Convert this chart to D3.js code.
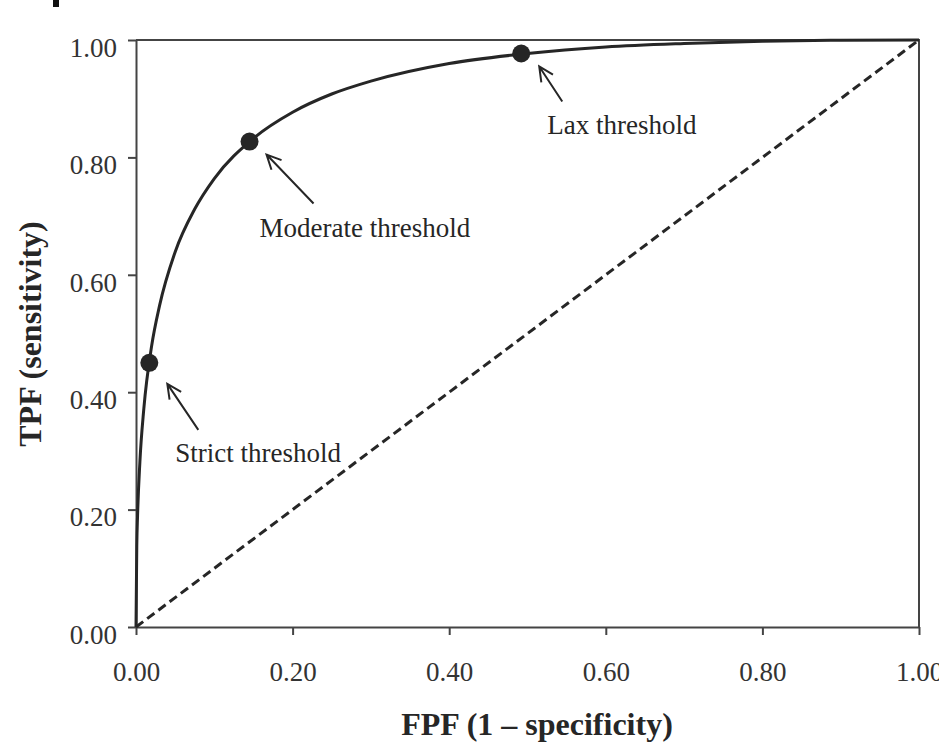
<!DOCTYPE html>
<html>
<head>
<meta charset="utf-8">
<script src="https://cdn.jsdelivr.net/npm/d3@7"></script>
<style>
  body { margin: 0; background: #fff; }
  svg { display: block; font-family: "Liberation Serif", "Times New Roman", serif; }
</style>
</head>
<body>
<div id="chart"></div>
<script>
// ROC curve: FPF (x) and TPF (y)
const fpf = [0, 0.001, 0.002, 0.005, 0.01, 0.02, 0.03, 0.05, 0.075, 0.10, 0.15, 0.20, 0.25, 0.30, 0.40, 0.50, 0.60, 0.70, 0.80, 0.90, 1.00];
const tpf = [0, 0.138, 0.19, 0.282, 0.372, 0.479, 0.547, 0.639, 0.712, 0.764, 0.8325, 0.877, 0.908, 0.930, 0.960, 0.977, 0.988, 0.994, 0.998, 0.9995, 1.00];

// chance line
const chanceX = [0, 1];
const chanceY = [0, 1];

// operating points
const pointNames = ["Strict threshold", "Moderate threshold", "Lax threshold"];
const pointFpf = [0.017, 0.145, 0.492];
const pointTpf = [0.45, 0.827, 0.977];

const xTicks = [0, 0.2, 0.4, 0.6, 0.8, 1.0];
const yTicks = [0, 0.2, 0.4, 0.6, 0.8, 1.0];
const xTitle = "FPF (1 \u2013 specificity)";
const yTitle = "TPF (sensitivity)";

// annotation layout (pixel offsets from each point): arrow tip, arrow tail, label start
const annot = [
  {tip: [18, 21], tail: [49, 67], label: [26, 99]},
  {tip: [17, 13], tail: [64, 62], label: [10, 95]},
  {tip: [18, 13], tail: [41, 48], label: [26, 80]}
];

const width = 939, height = 749;
const margin = {top: 40, right: 20, bottom: 122, left: 136};
const innerWidth = width - margin.left - margin.right,
      innerHeight = height - margin.top - margin.bottom;
const ink = "#262626";

const svg = d3.select("#chart").append("svg")
  .attr("width", width)
  .attr("height", height);

// stray panel-label fragment at top-left of the scan
svg.append("rect")
  .attr("x", 53).attr("y", 0).attr("width", 6).attr("height", 7)
  .attr("fill", "#111");

const g = svg.append("g")
  .attr("transform", `translate(${margin.left}, ${margin.top})`);

const x = d3.scaleLinear().domain([0, 1]).range([0, innerWidth]);
const y = d3.scaleLinear().domain([0, 1]).range([innerHeight, 0]);

// frame (top and right)
g.append("path")
  .attr("d", `M0,0H${innerWidth}V${innerHeight}`)
  .attr("fill", "none")
  .attr("stroke", "#444")
  .attr("stroke-width", 2);

// axes
const xAxis = g.append("g")
  .attr("transform", `translate(0, ${innerHeight})`)
  .call(d3.axisBottom(x).tickValues(xTicks).tickFormat(d3.format(".2f")).tickSize(8).tickSizeOuter(0).tickPadding(27));
const yAxis = g.append("g")
  .call(d3.axisLeft(y).tickValues(yTicks).tickFormat(d3.format(".2f")).tickSize(8).tickSizeOuter(0).tickPadding(11));

[xAxis, yAxis].forEach(ax => {
  ax.select(".domain").attr("stroke", "#444").attr("stroke-width", 2);
  ax.selectAll(".tick line").attr("stroke", "#444").attr("stroke-width", 2);
  ax.selectAll(".tick text")
    .attr("fill", "#333")
    .style("font-size", "27px")
    .style("font-family", "'Liberation Serif', 'Times New Roman', serif");
});
yAxis.selectAll(".tick text").attr("dy", "0.6em");
xAxis.selectAll(".tick text").attr("dy", "0.7em");

// axis titles
svg.append("text")
  .attr("x", 537)
  .attr("y", 735)
  .attr("text-anchor", "middle")
  .attr("fill", ink)
  .style("font-size", "32px")
  .style("font-weight", "bold")
  .text(xTitle);

svg.append("text")
  .attr("transform", `translate(41, ${334}) rotate(-90)`)
  .attr("text-anchor", "middle")
  .attr("fill", ink)
  .style("font-size", "32px")
  .style("font-weight", "bold")
  .text(yTitle);

// chance diagonal
g.append("path")
  .datum(d3.zip(chanceX, chanceY))
  .attr("d", d3.line().x(d => x(d[0])).y(d => y(d[1])))
  .attr("fill", "none")
  .attr("stroke", ink)
  .attr("stroke-width", 3)
  .attr("stroke-dasharray", "9,5");

// ROC curve
g.append("path")
  .datum(d3.zip(fpf, tpf))
  .attr("d", d3.line().x(d => x(d[0])).y(d => y(d[1])).curve(d3.curveMonotoneX))
  .attr("fill", "none")
  .attr("stroke", ink)
  .attr("stroke-width", 3);

// operating points
const pts = pointNames.map((n, i) => ({name: n, fx: pointFpf[i], ty: pointTpf[i], a: annot[i]}));

g.selectAll("circle.pt")
  .data(pts)
  .enter().append("circle")
  .attr("class", "pt")
  .attr("cx", d => x(d.fx))
  .attr("cy", d => y(d.ty))
  .attr("r", 9)
  .attr("fill", ink);

// arrows with open heads
const arrows = g.selectAll("g.arrow")
  .data(pts)
  .enter().append("g")
  .attr("class", "arrow")
  .attr("transform", d => `translate(${x(d.fx)}, ${y(d.ty)})`);

arrows.append("path")
  .attr("d", d => {
    const [tx, ty] = d.a.tip, [sx, sy] = d.a.tail;
    const ang = Math.atan2(sy - ty, sx - tx);
    const len = 16, spread = 0.45;
    const h1 = [tx + len * Math.cos(ang + spread), ty + len * Math.sin(ang + spread)];
    const h2 = [tx + len * Math.cos(ang - spread), ty + len * Math.sin(ang - spread)];
    return `M${sx},${sy}L${tx},${ty}M${h1[0]},${h1[1]}L${tx},${ty}L${h2[0]},${h2[1]}`;
  })
  .attr("fill", "none")
  .attr("stroke", ink)
  .attr("stroke-width", 2);

arrows.append("text")
  .attr("x", d => d.a.label[0])
  .attr("y", d => d.a.label[1])
  .attr("fill", ink)
  .style("font-size", "27px")
  .text(d => d.name);
</script>
</body>
</html>
